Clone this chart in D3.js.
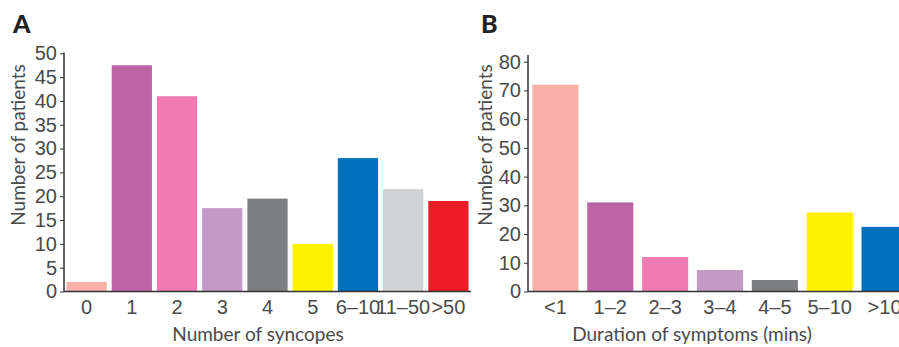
<!DOCTYPE html>
<html lang="en">
<head>
    <meta charset="UTF-8">
    <title>Syncopes and duration of symptoms</title>
    <script src="https://d3js.org/d3.v7.min.js"></script>
    <style>
        body {
            margin: 0;
            background: #fff;
        }

        svg {
            font-family: Lato, "Open Sans", sans-serif;
        }

        .tick text {
            font-size: 20px;
            fill: #4a4a4a;
        }

        .axis-label {
            font-size: 19px;
            fill: #4a4a4a;
        }

        .panel-letter {
            font-size: 25px;
            font-weight: 900;
            fill: #222;
        }
    </style>
</head>
<body>

<svg id="chart" width="899" height="347"></svg>

<script>
    // Panel A: number of syncopes
    const syncopeCategories = ["0", "1", "2", "3", "4", "5", "6\u201310", "11\u201350", ">50"];
    const syncopePatients = [2, 47.5, 41, 17.5, 19.5, 10, 28, 21.5, 19];
    const syncopeTicks = [0, 5, 10, 15, 20, 25, 30, 35, 40, 45, 50];

    // Panel B: duration of symptoms
    const durationCategories = ["<1", "1\u20132", "2\u20133", "3\u20134", "4\u20135", "5\u201310", ">10"];
    const durationPatients = [72, 31, 12, 7.5, 4, 27.5, 22.5];
    const durationTicks = [0, 10, 20, 30, 40, 50, 60, 70, 80];

    const barColors = ["#f8b1a8", "#bc64a6", "#f07bb0", "#c399c7", "#7e7f83",
                       "#fff200", "#0071bc", "#d2d3d5", "#ee1d25"];

    const svg = d3.select("#chart");

    function drawPanel(opts) {
        const g = svg.append("g");

        const x = d3.scaleBand()
                    .domain(opts.categories)
                    .range([opts.left, opts.right])
                    .paddingInner(opts.pad)
                    .paddingOuter(opts.pad / 2);

        const y = d3.scaleLinear()
                    .domain([0, d3.max(opts.ticks)])
                    .range([291.5, opts.yTop]);

        // bars
        g.selectAll("rect")
         .data(opts.values)
         .enter()
         .append("rect")
         .attr("x", (d, i) => x(opts.categories[i]))
         .attr("width", x.bandwidth())
         .attr("y", d => y(d))
         .attr("height", d => y(0) - y(d))
         .attr("fill", (d, i) => barColors[i]);

        // y axis
        const yAxis = g.append("g")
                       .attr("transform", `translate(${opts.left},0)`)
                       .call(d3.axisLeft(y).tickValues(opts.ticks).tickSize(4).tickPadding(3));
        yAxis.select(".domain").remove();
        yAxis.selectAll(".tick line").attr("stroke", "#333");

        g.append("line")
         .attr("x1", opts.left).attr("x2", opts.left)
         .attr("y1", y(0)).attr("y2", opts.axisTop)
         .attr("stroke", "#333").attr("stroke-width", 1.5);

        // baseline
        g.append("line")
         .attr("x1", opts.left).attr("x2", opts.right)
         .attr("y1", y(0)).attr("y2", y(0))
         .attr("stroke", "#333").attr("stroke-width", 1.5);

        // x labels
        const xAxis = g.append("g")
                       .attr("transform", `translate(0,${y(0)})`)
                       .call(d3.axisBottom(x).tickSize(0).tickPadding(8));
        xAxis.select(".domain").remove();

        g.selectAll(".tick text").attr("font-family", null).attr("font-size", null);

        g.append("text")
         .attr("class", "axis-label")
         .attr("x", opts.xTitleX)
         .attr("y", 341)
         .attr("text-anchor", "middle")
         .text(opts.xTitle);

        g.append("text")
         .attr("class", "axis-label")
         .attr("transform", `translate(${opts.yTitleX},${opts.yTitleY}) rotate(-90)`)
         .attr("text-anchor", "middle")
         .text("Number of patients");

        g.append("text")
         .attr("class", "panel-letter")
         .attr("x", opts.letterX)
         .attr("y", 33)
         .text(opts.letter);
    }

    drawPanel({
        categories: syncopeCategories,
        values: syncopePatients,
        ticks: syncopeTicks,
        left: 64, right: 471, pad: 0.11,
        yTop: 53.3, axisTop: 52.5,
        xTitle: "Number of syncopes", xTitleX: 258,
        yTitleX: 25, yTitleY: 145,
        letter: "A", letterX: 13
    });

    drawPanel({
        categories: durationCategories,
        values: durationPatients,
        ticks: durationTicks,
        left: 528, right: 912, pad: 0.16,
        yTop: 61.7, axisTop: 55,
        xTitle: "Duration of symptoms (mins)", xTitleX: 692,
        yTitleX: 492, yTitleY: 145,
        letter: "B", letterX: 481
    });
</script>

</body>
</html>
